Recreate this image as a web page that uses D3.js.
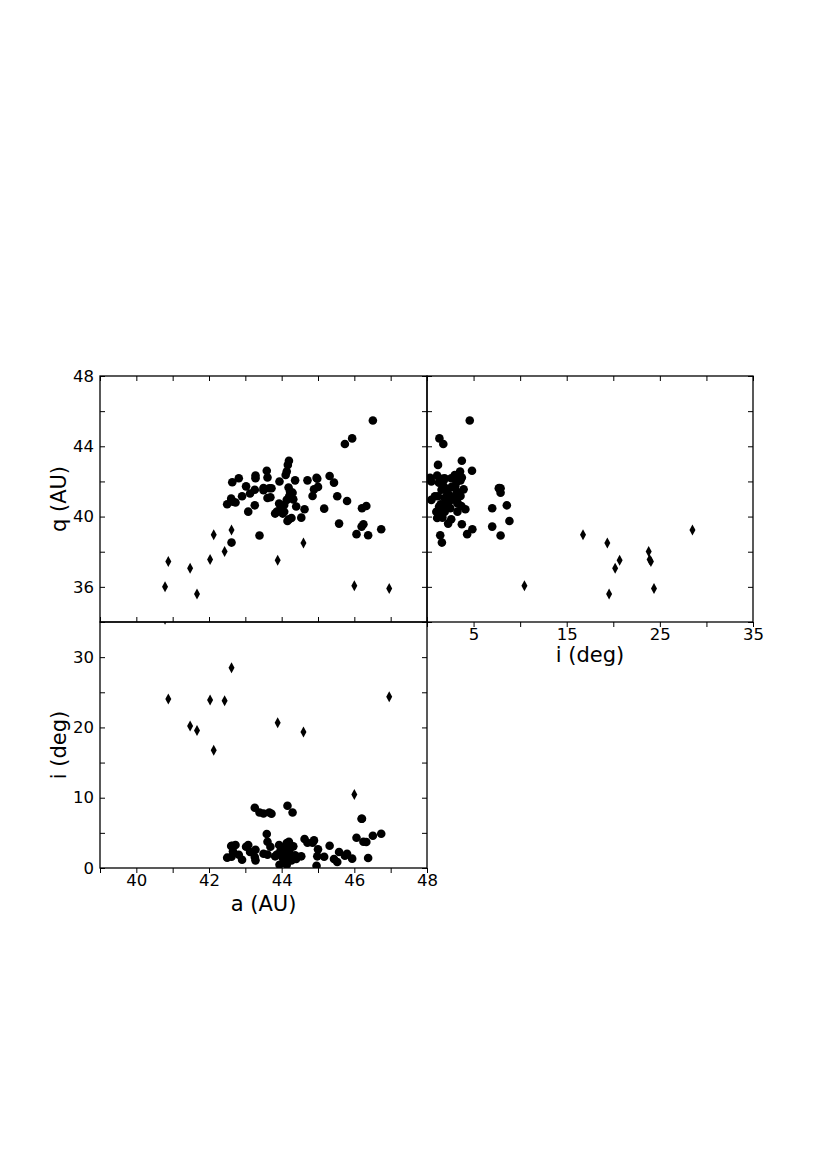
<!DOCTYPE html>
<html>
<head>
<meta charset="utf-8">
<script src="https://cdn.jsdelivr.net/npm/d3@7"></script>
<style>
  html, body { margin: 0; padding: 0; background: #fff; }
  svg { display: block; }
  text { font-family: "DejaVu Sans", sans-serif; fill: #000; }
</style>
</head>
<body>
<svg id="chart" width="830" height="1175"></svg>
<script>
// ---- Data: objects drawn with diamonds (high inclination) ----
const diamondA = [40.79, 40.88, 41.48, 41.67, 42.03, 42.13, 42.43, 42.62, 43.89, 44.60, 46.00, 46.96];
const diamondQ = [36.00, 37.44, 37.06, 35.59, 37.56, 38.96, 38.01, 39.24, 37.52, 38.50, 36.06, 35.91];
const diamondI = [35.4, 24.04, 20.2, 19.55, 23.9, 16.75, 23.8, 28.5, 20.68, 19.36, 10.46, 24.37];

// ---- Data: objects drawn with circles (low inclination) ----
const circleA = [42.50, 42.61, 42.62, 42.64, 42.66, 42.73, 42.82, 42.91, 43.02, 43.08,
                 43.13, 43.26, 43.26, 43.28, 43.28, 43.39, 43.50, 43.50, 43.59, 43.61,
                 43.61, 43.66, 43.69, 43.72, 43.82, 43.87, 43.93, 43.94, 43.97, 44.03,
                 44.07, 44.07, 44.11, 44.14, 44.14, 44.16, 44.17, 44.19, 44.20, 44.20,
                 44.21, 44.23, 44.27, 44.30, 44.32, 44.37, 44.40, 44.54, 44.63, 44.71,
                 44.85, 44.89, 44.96, 44.98, 45.00, 45.17, 45.32, 45.44, 45.53, 45.58,
                 45.74, 45.80, 45.94, 46.06, 46.20, 46.21, 46.25, 46.33, 46.38, 46.51,
                 46.74];
const circleQ = [40.70, 41.02, 38.52, 41.95, 40.85, 40.80, 42.18, 41.16, 41.72, 40.28,
                 41.31, 41.53, 40.64, 42.33, 42.18, 38.92, 41.63, 41.50, 42.61, 42.22,
                 41.06, 41.61, 41.10, 41.61, 40.17, 40.28, 40.74, 42.00, 40.47, 40.17,
                 40.66, 40.27, 42.37, 42.56, 40.95, 39.75, 42.94, 41.65, 43.18, 39.85,
                 41.17, 41.42, 39.92, 41.36, 40.98, 42.06, 40.57, 39.94, 40.42, 42.06,
                 41.17, 41.55, 42.20, 42.15, 41.69, 40.45, 42.31, 41.93, 41.16, 39.60,
                 44.13, 40.89, 44.45, 39.00, 39.43, 40.47, 39.56, 40.60, 38.94, 45.47,
                 39.28];
const circleI = [1.47, 3.12, 1.60, 3.17, 2.37, 3.27, 1.89, 1.18, 3.03, 3.27,
                 2.27, 1.56, 8.57, 1.09, 2.60, 7.90, 7.76, 2.03, 4.83, 3.74,
                 1.90, 7.90, 3.03, 7.71, 1.66, 1.90, 3.27, 0.47, 2.50, 1.42,
                 2.13, 1.00, 2.98, 3.55, 0.47, 8.85, 1.18, 1.89, 3.74, 2.60,
                 2.51, 3.20, 1.09, 7.90, 3.08, 1.80, 1.30, 1.66, 4.12, 3.60,
                 3.60, 3.93, 0.33, 1.66, 2.65, 1.61, 3.17, 1.28, 0.85, 2.27,
                 1.75, 2.03, 1.33, 4.31, 7.00, 7.00, 3.74, 3.69, 1.42, 4.59,
                 4.87];

// ---- Axis ticks ----
const aTicks = [39, 40, 41, 42, 43, 44, 45, 46, 47, 48];
const aTickLabels = [40, 42, 44, 46, 48];
const qTicks = [34, 36, 38, 40, 42, 44, 46, 48];
const qTickLabels = [36, 40, 44, 48];
const iTicks = [0, 5, 10, 15, 20, 25, 30, 35];
const iTickLabelsX = [5, 15, 25, 35];
const iTickLabelsY = [0, 10, 20, 30];

const labelA = "a (AU)";
const labelQ = "q (AU)";
const labelI = "i (deg)";

// ---- Layout ----
const L = 100, M = 427, R = 753, T = 376, MID = 622, B = 868;
const svg = d3.select("#chart");

const xA = d3.scaleLinear().domain([39, 48]).range([L, M]);
const xI = d3.scaleLinear().domain([0, 35]).range([M, R]);
const yQ = d3.scaleLinear().domain([34, 48]).range([MID, T]);
const yI = d3.scaleLinear().domain([0, 35]).range([B, MID]);

const circles = circleA.map((a, k) => ({a, q: circleQ[k], i: circleI[k]}));
const diamonds = diamondA.map((a, k) => ({a, q: diamondQ[k], i: diamondI[k]}));

const TICK = 5, FS = 16.5;
function fmt(labels) { return d => labels.includes(d) ? String(d) : ""; }

function axis(gen, scale, ticks, labels, tx, ty) {
  const g = svg.append("g").attr("transform", `translate(${tx},${ty})`)
    .call(gen(scale).tickValues(ticks).tickSize(-TICK).tickPadding(6).tickFormat(fmt(labels)));
  g.select(".domain").remove();
  g.selectAll(".tick line").attr("stroke", "#000").attr("stroke-width", 1);
  g.selectAll(".tick text").attr("font-size", FS).attr("font-family", "DejaVu Sans, sans-serif").attr("fill", "#000");
  return g;
}

function panel(id, xs, ys, xkey, ykey) {
  const [x0, x1] = xs.range(), [y1, y0] = ys.range();
  svg.append("clipPath").attr("id", id).append("rect")
    .attr("x", x0).attr("y", y0).attr("width", x1 - x0).attr("height", y1 - y0);
  const g = svg.append("g").attr("clip-path", `url(#${id})`);
  g.selectAll("circle").data(circles).join("circle")
    .attr("cx", d => xs(d[xkey])).attr("cy", d => ys(d[ykey])).attr("r", 4.3).attr("fill", "#000");
  g.selectAll("path").data(diamonds).join("path")
    .attr("transform", d => `translate(${xs(d[xkey])},${ys(d[ykey])})`)
    .attr("d", "M0,-5.5L3,0L0,5.5L-3,0Z").attr("fill", "#000");
}

panel("c1", xA, yQ, "a", "q");
panel("c2", xI, yQ, "i", "q");
panel("c3", xA, yI, "a", "i");

// Top-left panel axes (a vs q)
axis(d3.axisLeft, yQ, qTicks, qTickLabels, L, 0);
axis(d3.axisRight, yQ, qTicks, [], M, 0);
axis(d3.axisTop, xA, aTicks, [], 0, T);
axis(d3.axisBottom, xA, aTicks, [], 0, MID);
// Top-right panel axes (i vs q)
axis(d3.axisLeft, yQ, qTicks, [], M, 0);
axis(d3.axisRight, yQ, qTicks, [], R, 0);
axis(d3.axisTop, xI, iTicks, [], 0, T);
axis(d3.axisTop, xI, iTicks, [], 0, MID);
axis(d3.axisBottom, xI, iTicks, iTickLabelsX, 0, MID).selectAll(".tick line").remove();
// Bottom-left panel axes (a vs i)
axis(d3.axisLeft, yI, iTicks, iTickLabelsY, L, 0);
axis(d3.axisRight, yI, iTicks, [], M, 0);
axis(d3.axisTop, xA, aTicks, [], 0, B);
axis(d3.axisBottom, xA, aTicks, aTickLabels, 0, B).selectAll(".tick line").remove();

// Frames
const frame = (x0, y0, x1, y1) => svg.append("rect")
  .attr("x", x0).attr("y", y0).attr("width", x1 - x0).attr("height", y1 - y0)
  .attr("fill", "none").attr("stroke", "#000").attr("stroke-width", 1.3);
frame(L, T, M, MID);
frame(M, T, R, MID);
frame(L, MID, M, B);

// Axis labels
svg.append("text").attr("x", (L + M) / 2).attr("y", 911).attr("text-anchor", "middle")
  .attr("font-size", 21).text(labelA);
svg.append("text").attr("x", (M + R) / 2).attr("y", 662).attr("text-anchor", "middle")
  .attr("font-size", 21).text(labelI);
svg.append("text").attr("transform", `translate(66,${(T + MID) / 2}) rotate(-90)`)
  .attr("text-anchor", "middle").attr("font-size", 21).text(labelQ);
svg.append("text").attr("transform", `translate(66,${(MID + B) / 2}) rotate(-90)`)
  .attr("text-anchor", "middle").attr("font-size", 21).text(labelI);
</script>
</body>
</html>
